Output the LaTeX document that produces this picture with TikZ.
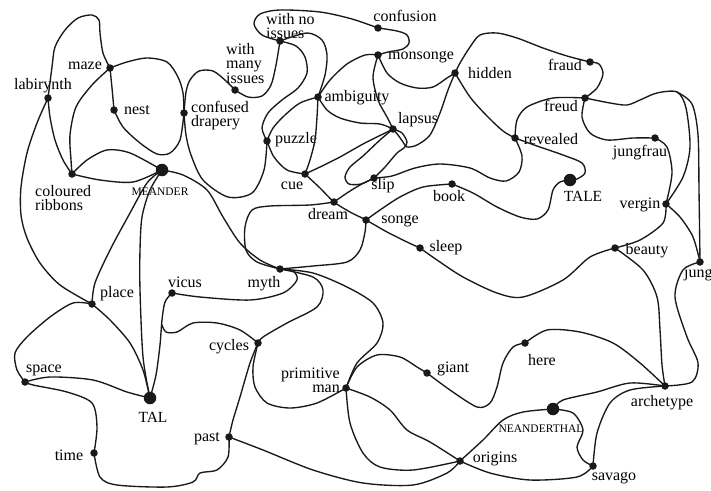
\documentclass[tikz,border=0pt]{standalone}
\usepackage{fontspec}
\setmainfont{Liberation Serif}
\begin{document}
\begin{tikzpicture}[x=1pt,y=-1pt,
  wire/.style={line width=1.35pt,line cap=round,line join=round,color=black!90},
  dotn/.style={circle,fill=black!90,inner sep=0pt,minimum size=7.5pt},
  bigdot/.style={dotn,minimum size=12.5pt},
  lab/.style={inner sep=0pt,font=\fontsize{16}{14}\selectfont},
  caps/.style={inner sep=0pt,font=\fontsize{15.5}{15}\selectfont},
  smallcaps/.style={inner sep=0pt,font=\fontsize{11.5}{12}\selectfont}]
\useasboundingbox[fill=white] (0,0) rectangle (711,490);
% dots
\node[dotn] (labirynth) at (48,98) {};
\node[dotn] (maze) at (110,68) {};
\node[dotn] (nest) at (114,110) {};
\node[dotn] (drapery) at (184,113) {};
\node[dotn] (many) at (235,90) {};
\node[dotn] (noiss) at (280,41) {};
\node[dotn] (confusion) at (378,28) {};
\node[dotn] (monsonge) at (378,55) {};
\node[dotn] (hidden) at (455,73) {};
\node[dotn] (fraud) at (590,62) {};
\node[dotn] (freud) at (585,98) {};
\node[dotn] (ambiguity) at (318,97) {};
\node[dotn] (lapsus) at (393,129) {};
\node[dotn] (puzzle) at (267,141) {};
\node[dotn] (revealed) at (515,138) {};
\node[dotn] (jungfrau) at (655,138) {};
\node[dotn] (cue) at (305,174) {};
\node[dotn] (slip) at (374,178) {};
\node[dotn] (book) at (452,184) {};
\node[bigdot] (TALE) at (570,180) {};
\node[dotn] (vergin) at (666,204) {};
\node[dotn] (dream) at (334,202) {};
\node[dotn] (songe) at (366,220) {};
\node[dotn] (sleep) at (420,248) {};
\node[dotn] (beauty) at (615,248) {};
\node[dotn] (jung) at (700,262) {};
\node[bigdot] (meander) at (162,170) {};
\node[dotn] (ribbons) at (72,174) {};
\node[dotn] (myth) at (280,269) {};
\node[dotn] (vicus) at (172,293) {};
\node[dotn] (place) at (92,304) {};
\node[dotn] (cycles) at (258,343) {};
\node[dotn] (space) at (25,382) {};
\node[bigdot] (TAL) at (150,398) {};
\node[dotn] (primitive) at (346,388) {};
\node[dotn] (giant) at (427,373) {};
\node[dotn] (here) at (525,343) {};
\node[dotn] (archetype) at (665,386) {};
\node[bigdot] (neander) at (553,409) {};
\node[dotn] (past) at (229,437) {};
\node[dotn] (time) at (94,453) {};
\node[dotn] (origins) at (460,461) {};
\node[dotn] (savago) at (593,466) {};
\coordinate (jtop) at (677,92);
\coordinate (junc) at (162,325);
% labels
\node[lab] (l-labirynth) at (43,86) {labirynth};
\node[lab] (l-maze) at (85,66) {maze};
\node[lab] (l-nest) at (137,110) {nest};
\node[lab,anchor=west,align=left] (l-drapery) at (191,116) {confused\\drapery};
\node[lab,anchor=west,align=left] (l-many) at (226,64) {with\\many\\issues};
\node[lab,anchor=west,align=left] (l-noiss) at (266,26) {with no\\issues};
\node[lab] (l-confusion) at (405,16) {confusion};
\node[lab] (l-monsonge) at (421,57) {monsonge};
\node[lab] (l-hidden) at (490,73) {hidden};
\node[lab] (l-fraud) at (565,65) {fraud};
\node[lab] (l-freud) at (561,106) {freud};
\node[lab] (l-ambiguity) at (357,98) {ambiguity};
\node[lab] (l-lapsus) at (418,120) {lapsus};
\node[lab] (l-puzzle) at (296,140) {puzzle};
\node[lab] (l-revealed) at (551,139) {revealed};
\node[lab] (l-jungfrau) at (640,153) {jungfrau};
\node[lab] (l-cue) at (292,186) {cue};
\node[lab] (l-slip) at (383,186) {slip};
\node[lab] (l-book) at (449,196) {book};
\node[caps] (l-TALE) at (583,196) {TALE};
\node[lab] (l-vergin) at (640,205) {vergin};
\node[lab] (l-dream) at (328,214) {dream};
\node[lab] (l-songe) at (400,221) {songe};
\node[lab] (l-sleep) at (446,248) {sleep};
\node[lab] (l-beauty) at (647,251) {beauty};
\node[lab,anchor=west] (l-jung) at (684,274) {jung};
\node[smallcaps] (l-meander) at (160,192) {MEANDER};
\node[lab,anchor=west,align=left] (l-ribbons) at (35,198) {coloured\\ribbons};
\node[lab] (l-myth) at (264,284) {myth};
\node[lab] (l-vicus) at (185,282) {vicus};
\node[lab] (l-place) at (117,294) {place};
\node[lab] (l-cycles) at (229,347) {cycles};
\node[lab] (l-space) at (44,370) {space};
\node[caps] (l-TAL) at (153,417) {TAL};
\node[lab] (l-time) at (69,455) {time};
\node[lab] (l-past) at (207,439) {past};
\node[lab,anchor=east,align=right] (l-primitive) at (340,380) {primitive\\man};
\node[lab] (l-giant) at (453,369) {giant};
\node[lab] (l-here) at (542,360) {here};
\node[lab] (l-archetype) at (662,403) {archetype};
\node[smallcaps] (l-neander) at (541,429) {NEANDERTHAL};
\node[lab] (l-origins) at (495,459) {origins};
\node[lab] (l-savago) at (614,478) {savago};
% curves
\begin{scope}[wire]
\draw plot[smooth] coordinates {(labirynth.center) (52,67) (55,47) (65,30) (78,18) (92,15) (99,20) (100,33) (103,53) (maze.center)};
\draw plot[smooth] coordinates {(labirynth.center) (50,117) (55,140) (63,160) (ribbons.center)};
\draw plot[smooth] coordinates {(labirynth.center) (37,123) (27,153) (21,187) (21,215) (27,238) (40,263) (60,285) (place.center)};
\draw plot[smooth] coordinates {(maze.center) (112,88) (nest.center)};
\draw plot[smooth] coordinates {(maze.center) (92,85) (76,107) (70,135) (71,160) (ribbons.center)};
\draw plot[smooth] coordinates {(maze.center) (127,62) (147,58) (167,62) (178,77) (183,93) (drapery.center)};
\draw plot[smooth] coordinates {(nest.center) (123,127) (140,143) (157,154) (170,153) (180,140) (drapery.center)};
\draw plot[smooth] coordinates {(drapery.center) (186,92) (190,80) (199,71) (213,71) (226,81) (many.center)};
\draw plot[smooth] coordinates {(drapery.center) (186,135) (191,155) (203,180) (228,197) (252,193) (264,170) (puzzle.center)};
\draw plot[smooth] coordinates {(many.center) (248,97) (262,96) (271,85) (276,65) (noiss.center)};
\draw plot[smooth] coordinates {(noiss.center) (262,35) (254,24) (260,14) (280,10) (320,12) (352,19) (confusion.center)};
\draw plot[smooth] coordinates {(noiss.center) (296,46) (305,57) (307,73) (298,88) (282,100) (268,113) (262,128) (puzzle.center)};
\draw plot[smooth] coordinates {(ambiguity.center) (325,75) (327,55) (322,40) (307,33) (noiss.center)};
\draw plot[smooth] coordinates {(ambiguity.center) (300,103) (285,115) (273,128) (puzzle.center)};
\draw plot[smooth] coordinates {(ambiguity.center) (317,117) (315,140) (310,160) (cue.center)};
\draw plot[smooth] coordinates {(ambiguity.center) (330,80) (347,64) (365,55) (monsonge.center)};
\draw plot[smooth] coordinates {(ambiguity.center) (327,110) (340,118) (360,123) (380,124) (lapsus.center)};
\draw plot[smooth] coordinates {(confusion.center) (397,31) (407,35) (409,43) (403,49) (388,52) (monsonge.center)};
\draw plot[smooth] coordinates {(monsonge.center) (373,77) (378,100) (387,117) (lapsus.center)};
\draw plot[smooth] coordinates {(monsonge.center) (387,73) (400,83) (417,88) (433,87) (447,78) (hidden.center)};
\draw plot[smooth] coordinates {(lapsus.center) (398,135) (403,142) (407,147) (417,145) (430,135) (440,113) (448,90) (hidden.center)};
\draw plot[smooth] coordinates {(lapsus.center) (402,133) (407,142) (404,148) (397,153) (385,167) (slip.center)};
\draw plot[smooth] coordinates {(lapsus.center) (380,140) (363,156) (350,167) (345,177) (349,184) (361,184) (slip.center)};
\draw plot[smooth] coordinates {(lapsus.center) (383,134) (363,144) (340,157) (320,167) (cue.center)};
\draw plot[smooth] coordinates {(puzzle.center) (274,157) (287,170) (cue.center)};
\draw plot[smooth] coordinates {(cue.center) (320,188) (dream.center) (350,212) (songe.center) (387,232) (407,242) (sleep.center)};
\draw plot[smooth] coordinates {(slip.center) (360,185) (347,193) (dream.center)};
\draw plot[smooth] coordinates {(slip.center) (392,176) (415,168) (440,164) (470,168) (490,178) (506,181) (519,172) (522,156) (revealed.center)};
\draw plot[smooth] coordinates {(songe.center) (380,210) (400,197) (423,187) (book.center)};
\draw plot[smooth] coordinates {(book.center) (473,193) (497,207) (520,217) (537,219) (548,210) (553,190) (560,182) (TALE.center)};
\draw plot[smooth] coordinates {(revealed.center) (537,146) (563,155) (582,163) (585,173) (577,179) (TALE.center)};
\draw plot[smooth] coordinates {(revealed.center) (503,131) (487,116) (470,97) (hidden.center)};
\draw plot[smooth] coordinates {(revealed.center) (517,120) (527,107) (553,98) (freud.center)};
\draw plot[smooth] coordinates {(freud.center) (597,88) (603,74) (599,64) (fraud.center)};
\draw plot[smooth] coordinates {(fraud.center) (567,56) (543,48) (517,38) (497,33) (480,35) (470,47) (460,63) (hidden.center)};
\draw plot[smooth] coordinates {(freud.center) (582,117) (590,133) (607,140) (633,138) (jungfrau.center)};
\draw plot[smooth] coordinates {(freud.center) (610,103) (627,105) (640,100) (657,93) (jtop) (686,108) (690,147) (683,177) (vergin.center)};
\draw plot[smooth] coordinates {(jtop) (692,104) (698,135) (699,190) (jung.center)};
\draw plot[smooth] coordinates {(jungfrau.center) (667,147) (672,173) (vergin.center)};
\draw plot[smooth] coordinates {(vergin.center) (680,217) (693,237) (jung.center)};
\draw plot[smooth] coordinates {(vergin.center) (663,223) (640,240) (beauty.center)};
\draw plot[smooth] coordinates {(sleep.center) (437,260) (463,277) (497,293) (523,297) (563,280) (590,257) (beauty.center)};
\draw plot[smooth] coordinates {(beauty.center) (643,270) (657,297) (660,330) (662,365) (archetype.center)};
\draw plot[smooth] coordinates {(jung.center) (683,270) (675,297) (687,337) (698,363) (692,382) (archetype.center)};
\draw plot[smooth] coordinates {(here.center) (547,330) (580,332) (613,343) (640,363) (archetype.center)};
\draw plot[smooth] coordinates {(neander.center) (563,400) (597,392) (630,383) (archetype.center)};
\draw plot[smooth] coordinates {(savago.center) (597,433) (610,403) (630,390) (archetype.center)};
\draw plot[smooth] coordinates {(neander.center) (573,413) (583,430) (577,447) (583,460) (savago.center)};
\draw plot[smooth] coordinates {(origins.center) (490,473) (530,480) (577,477) (savago.center)};
\draw plot[smooth] coordinates {(origins.center) (483,440) (503,420) (523,412) (neander.center)};
\draw plot[smooth] coordinates {(past.center) (263,450) (313,470) (363,483) (413,485) (447,473) (origins.center)};
\draw plot[smooth] coordinates {(primitive.center) (350,423) (363,453) (380,467) (413,470) (origins.center)};
\draw plot[smooth] coordinates {(primitive.center) (370,397) (390,410) (407,430) (430,442) (origins.center)};
\draw plot[smooth] coordinates {(primitive.center) (357,367) (377,355) (400,357) (417,367) (giant.center)};
\draw plot[smooth] coordinates {(giant.center) (450,390) (477,407) (490,403) (497,387) (503,363) (513,347) (here.center)};
\draw plot[smooth] coordinates {(myth.center) (313,273) (347,287) (373,303) (383,323) (377,343) (357,363) (primitive.center)};
\draw plot[smooth] coordinates {(cycles.center) (253,367) (255,387) (267,403) (290,408) (317,403) (primitive.center)};
\draw plot[smooth] coordinates {(myth.center) (313,277) (323,290) (317,307) (287,323) (263,337) (cycles.center)};
\draw plot[smooth] coordinates {(cycles.center) (250,363) (240,397) (233,420) (past.center)};
\draw plot[smooth] coordinates {(past.center) (228,457) (217,470) (200,473) (193,482) (167,487) (117,485) (100,477) (time.center)};
\draw plot[smooth] coordinates {(time.center) (97,427) (92,403) (67,392) (33,385) (space.center)};
\draw plot[smooth] coordinates {(space.center) (50,377) (93,380) (127,392) (TAL.center)};
\draw plot[smooth] coordinates {(space.center) (17,370) (15,353) (27,337) (50,317) (73,303) (place.center)};
\draw plot[smooth] coordinates {(place.center) (110,320) (130,343) (143,370) (TAL.center)};
\draw plot[smooth] coordinates {(meander.center) (147,183) (130,213) (110,250) (95,283) (place.center)};
\draw plot[smooth] coordinates {(meander.center) (150,190) (142,217) (140,250) (140,290) (143,357) (TAL.center)};
\draw plot[smooth] coordinates {(vicus.center) (165,302) (162,320) (160,345) (156,375) (TAL.center)};
\draw plot[smooth] coordinates {(cycles.center) (240,330) (217,323) (193,323) (177,332) (166,332) (junc)};
\draw plot[smooth] coordinates {(vicus.center) (200,297) (250,300) (283,293) (297,280) (293,271) (myth.center)};
\draw plot[smooth] coordinates {(meander.center) (183,175) (207,190) (223,217) (240,243) (260,260) (myth.center)};
\draw plot[smooth] coordinates {(dream.center) (310,205) (270,206) (252,210) (245,227) (246,250) (257,262) (myth.center)};
\draw plot[smooth] coordinates {(myth.center) (313,266) (347,262) (360,250) (365,232) (songe.center)};
\draw plot[smooth] coordinates {(ribbons.center) (87,160) (107,150) (130,153) (meander.center)};
\draw plot[smooth] coordinates {(ribbons.center) (100,180) (133,182) (meander.center)};
\end{scope}
\end{tikzpicture}
\end{document}
